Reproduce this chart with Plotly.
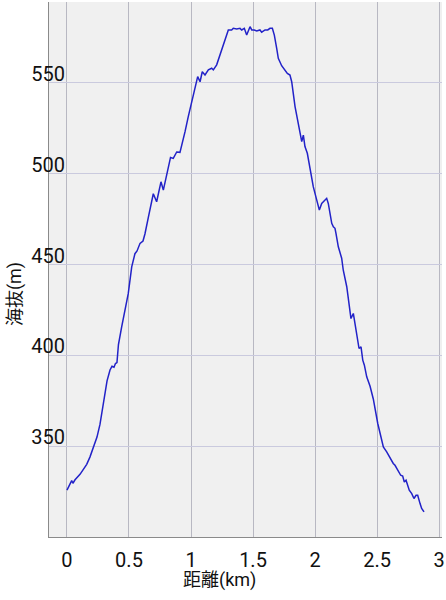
"""Elevation profile (distance vs. altitude) recreated with Plotly."""

import plotly.graph_objects as go

# distance along the route (km) and elevation (m)
distance_km = [
    0.000, 0.024, 0.038, 0.048, 0.065, 0.105, 0.159, 0.185, 0.214, 0.242,
    0.266, 0.298, 0.323, 0.347, 0.363, 0.379, 0.391, 0.403, 0.415, 0.441,
    0.481, 0.494, 0.522, 0.548, 0.565, 0.589, 0.613, 0.629, 0.656, 0.696,
    0.723, 0.758, 0.777, 0.804, 0.835, 0.857, 0.885, 0.911, 0.938, 0.952,
    0.978, 0.988, 1.006, 1.027, 1.044, 1.054, 1.073, 1.091, 1.113, 1.140,
    1.167, 1.180, 1.207, 1.234, 1.260, 1.288, 1.301, 1.328, 1.341, 1.369,
    1.395, 1.409, 1.430, 1.449, 1.462, 1.476, 1.490, 1.510, 1.530, 1.556,
    1.570, 1.597, 1.619, 1.637, 1.656, 1.672, 1.691, 1.704, 1.731, 1.758,
    1.777, 1.798, 1.812, 1.839, 1.865, 1.893, 1.906, 1.919, 1.938, 1.960,
    1.986, 2.014, 2.035, 2.054, 2.081, 2.094, 2.107, 2.135, 2.148, 2.161,
    2.169, 2.188, 2.215, 2.228, 2.256, 2.274, 2.290, 2.309, 2.323, 2.344,
    2.355, 2.371, 2.385, 2.398, 2.417, 2.444, 2.470, 2.506, 2.524, 2.551,
    2.578, 2.605, 2.631, 2.645, 2.672, 2.691, 2.707, 2.720, 2.734, 2.748,
    2.760, 2.780, 2.798, 2.815, 2.828, 2.847, 2.860, 2.879,
]
elevation_m = [
    325.8, 329.5, 331.0, 329.6, 331.5, 334.5, 340.0, 344.0, 350.0, 355.0,
    362.0, 375.0, 386.0, 392.0, 394.0, 393.5, 395.5, 396.0, 406.0, 415.7,
    430.0, 434.0, 448.8, 456.0, 457.5, 461.7, 463.0, 467.0, 476.0, 489.0,
    484.6, 495.6, 491.0, 500.2, 509.0, 508.5, 512.0, 511.8, 518.6, 523.2,
    531.5, 534.2, 540.6, 545.2, 550.0, 553.5, 550.7, 556.2, 554.4, 557.2,
    558.1, 557.2, 560.0, 565.4, 570.9, 577.3, 579.2, 579.2, 580.1, 579.8,
    580.1, 579.2, 580.1, 576.4, 579.2, 581.0, 579.2, 579.2, 578.7, 579.2,
    578.0, 579.2, 579.2, 580.1, 580.1, 576.4, 569.1, 563.6, 559.5, 557.2,
    555.3, 554.4, 550.7, 537.0, 527.7, 517.7, 521.3, 515.0, 511.3, 502.1,
    492.9, 485.5, 480.0, 483.7, 485.5, 486.5, 483.7, 472.7, 470.8, 470.0,
    467.2, 459.8, 453.5, 446.9, 437.8, 426.7, 420.3, 423.1, 417.6, 410.2,
    403.8, 404.7, 397.4, 394.6, 388.2, 383.0, 376.0, 362.5, 357.5, 349.6,
    346.9, 343.2, 340.5, 339.5, 335.9, 334.0, 333.6, 330.3, 331.3, 327.6,
    325.8, 323.9, 321.2, 323.0, 323.0, 318.4, 315.7, 313.8,
]

x_ticks = [0, 0.5, 1, 1.5, 2, 2.5, 3]
x_tick_text = ["0", "0.5", "1", "1.5", "2", "2.5", "3"]
y_ticks = [350, 400, 450, 500, 550]

FONT = "Roboto, 'Noto Sans CJK JP', sans-serif"

fig = go.Figure()
fig.add_scatter(
    x=distance_km,
    y=elevation_m,
    mode="lines",
    line=dict(color="#2222c8", width=1.5),
    showlegend=False,
)

fig.update_layout(
    width=446,
    height=600,
    margin=dict(l=49, r=4, t=2, b=63),
    paper_bgcolor="white",
    plot_bgcolor="#f0f0f0",
    font=dict(family=FONT, size=20, color="#111111"),
    showlegend=False,
)
fig.update_xaxes(
    range=[-0.145, 3.024],
    tickmode="array",
    tickvals=x_ticks,
    ticktext=x_tick_text,
    showgrid=True,
    gridcolor="#b8b8c2",
    gridwidth=1,
    zeroline=False,
    showline=True,
    linecolor="#8a8a8a",
    linewidth=1,
    ticks="",
    ticklabelstandoff=5,
    automargin=False,
)
fig.update_yaxes(
    range=[300, 594.6],
    tickmode="array",
    tickvals=y_ticks,
    showgrid=True,
    gridcolor="#cacade",
    gridwidth=1,
    zeroline=False,
    showline=True,
    linecolor="#8a8a8a",
    linewidth=1,
    ticks="",
    ticklabelposition="outside top",
    ticklabelstandoff=-21,
    ticklabelshift=5,
    automargin=False,
)

# axis titles placed as annotations so they sit where the reference puts them
fig.add_annotation(
    text="距離(km)", xref="paper", yref="paper", x=0.433, y=-0.081,
    showarrow=False, font=dict(size=18, color="#111111"),
    xanchor="center", yanchor="middle",
)
fig.add_annotation(
    text="海抜(m)", xref="paper", yref="paper", x=-0.0865, y=0.454,
    showarrow=False, textangle=-90, font=dict(size=18, color="#111111"),
    xanchor="center", yanchor="middle",
)

# the page body has a default 8px margin; drop it so the figure fills the window
fig.write_html(
    "out.html",
    config={"displayModeBar": False},
    post_script="document.body.style.margin = '0';",
)
